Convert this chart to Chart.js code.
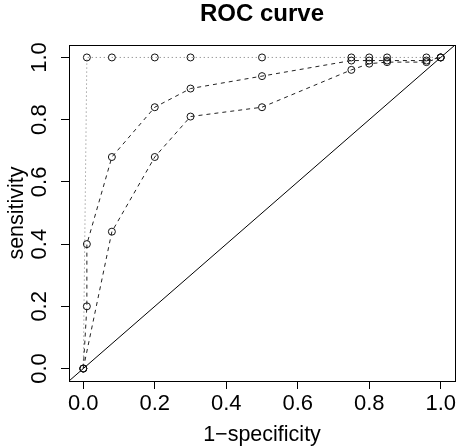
<!DOCTYPE html>
<html lang="en">
<head>
    <meta charset="UTF-8">
    <title>ROC curve</title>
    <style>
        body {
            margin: 0;
            background: #fff;
        }
        #wrap {
            width: 462px;
            height: 448px;
        }
    </style>
</head>
<body>
    <div id="wrap"><canvas id="roc"></canvas></div>

    <script src="https://cdn.jsdelivr.net/npm/chart.js"></script>
    <script>
        // dotted curve (perfect classifier)
        const dotFpr  = [0, 0.01, 0.08, 0.2, 0.3, 0.5, 0.75, 0.8, 0.85, 0.96, 1];
        const dotSens = [0, 1, 1, 1, 1, 1, 1, 1, 1, 1, 1];
        // upper dashed curve
        const upFpr  = [0, 0.01, 0.01, 0.08, 0.2, 0.3, 0.5, 0.75, 0.8, 0.85, 0.96, 1];
        const upSens = [0, 0.2, 0.4, 0.68, 0.84, 0.9, 0.94, 0.99, 0.99, 0.99, 0.99, 1];
        // lower dashed curve
        const lowFpr  = [0, 0.08, 0.2, 0.3, 0.5, 0.75, 0.8, 0.85, 0.96, 1];
        const lowSens = [0, 0.44, 0.68, 0.81, 0.84, 0.96, 0.98, 0.985, 0.985, 1];
        // chance line and axes
        const axisMin = -0.04;
        const axisMax = 1.04;
        const tickValues = [0, 0.2, 0.4, 0.6, 0.8, 1.0];
        const chartTitle = "ROC curve";
        const xTitle = "1\u2212specificity";
        const yTitle = "sensitivity";

        const FONT = "'Liberation Sans', Arial, Helvetica, sans-serif";

        function pts(xs, ys) {
            return xs.map((x, i) => ({ x: x, y: ys[i] }));
        }

        function curve(xs, ys, dash, color) {
            return {
                data: pts(xs, ys),
                showLine: true,
                borderColor: color,
                borderWidth: 1,
                borderDash: dash,
                pointRadius: 3.5,
                pointBorderColor: "#111",
                pointBackgroundColor: "rgba(0,0,0,0)",
                pointBorderWidth: 1,
                tension: 0
            };
        }

        // frame, titles and rotated y labels, drawn like R's base plot
        const rPlot = {
            id: "rPlot",
            afterDraw(chart) {
                const ctx = chart.ctx;
                const a = chart.chartArea;
                const ys = chart.scales.y;
                ctx.save();
                ctx.strokeStyle = "#000";
                ctx.lineWidth = 1;
                ctx.strokeRect(a.left + 0.5, a.top + 0.5, a.right - a.left, a.bottom - a.top);

                ctx.fillStyle = "#000";
                ctx.textAlign = "center";
                ctx.textBaseline = "middle";
                ctx.font = "bold 24px " + FONT;
                ctx.fillText(chartTitle, (a.left + a.right) / 2, 14);

                ctx.font = "21.5px " + FONT;
                ctx.fillText(xTitle, (a.left + a.right) / 2, 435);

                ctx.save();
                ctx.translate(17, (a.top + a.bottom) / 2);
                ctx.rotate(-Math.PI / 2);
                ctx.fillText(yTitle, 0, 0);
                ctx.restore();

                ctx.font = "22px " + FONT;
                tickValues.forEach(v => {
                    ctx.save();
                    ctx.translate(40, ys.getPixelForValue(v));
                    ctx.rotate(-Math.PI / 2);
                    ctx.fillText(v.toFixed(1), 0, 0);
                    ctx.restore();
                });
                ctx.restore();
            }
        };

        new Chart(document.getElementById("roc"), {
            type: "scatter",
            data: {
                datasets: [
                    curve(upFpr, upSens, [4, 4], "#222"),
                    curve(lowFpr, lowSens, [4, 4], "#222"),
                    curve(dotFpr, dotSens, [1, 3], "#777"),
                    {
                        data: pts([axisMin, axisMax], [axisMin, axisMax]),
                        showLine: true,
                        borderColor: "#000",
                        borderWidth: 1,
                        pointRadius: 0
                    }
                ]
            },
            options: {
                responsive: true,
                maintainAspectRatio: false,
                animation: false,
                layout: { padding: { top: 45, right: 7, left: 0, bottom: 0 } },
                plugins: {
                    legend: { display: false },
                    tooltip: { enabled: false }
                },
                scales: {
                    x: {
                        type: "linear",
                        min: axisMin,
                        max: axisMax,
                        afterBuildTicks: s => { s.ticks = tickValues.map(v => ({ value: v })); },
                        afterFit: s => { s.height = 67; },
                        grid: { drawOnChartArea: false, drawTicks: true, tickLength: 8, color: "#000" },
                        border: { display: false },
                        ticks: {
                            padding: 2,
                            maxRotation: 0,
                            color: "#000",
                            font: { family: FONT, size: 22 },
                            callback: v => Number(v).toFixed(1)
                        }
                    },
                    y: {
                        type: "linear",
                        min: axisMin,
                        max: axisMax,
                        afterBuildTicks: s => { s.ticks = tickValues.map(v => ({ value: v })); },
                        afterFit: s => { s.width = 69; },
                        grid: { drawOnChartArea: false, drawTicks: true, tickLength: 8, color: "#000" },
                        border: { display: false },
                        ticks: { display: false }
                    }
                }
            },
            plugins: [rPlot]
        });
    </script>
</body>
</html>
